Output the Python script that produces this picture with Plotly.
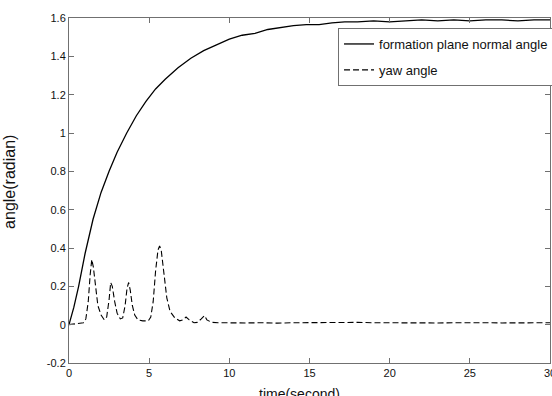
import plotly.graph_objects as go

# formation plane normal angle (solid)
t_normal = [0, 0.3, 0.6, 1.0, 1.5, 2.0, 2.5, 3.0, 3.6, 4.2, 4.8, 5.4, 6.0, 6.8, 7.6, 8.4,
            9.2, 10.0, 10.8, 11.6, 12.4, 13.2, 14.0, 14.8, 15.6, 16.4, 17.2, 18.0, 19.0,
            20.0, 21.0, 22.0, 23.0, 24.0, 25.0, 26.0, 27.0, 28.0, 29.0, 30.0]
v_normal = [0, 0.09, 0.2, 0.37, 0.55, 0.69, 0.80, 0.90, 1.00, 1.09, 1.165, 1.23, 1.28,
            1.34, 1.39, 1.43, 1.46, 1.49, 1.51, 1.52, 1.54, 1.55, 1.56, 1.565, 1.565,
            1.575, 1.58, 1.58, 1.585, 1.58, 1.585, 1.59, 1.585, 1.59, 1.585, 1.59, 1.59,
            1.585, 1.59, 1.59]

# yaw angle (dashed)
t_yaw = [0, 0.5, 0.9, 1.05, 1.2, 1.32, 1.42, 1.52, 1.65, 1.8, 2.0, 2.2, 2.35, 2.5, 2.6,
         2.7, 2.85, 3.0, 3.2, 3.35, 3.5, 3.62, 3.72, 3.82, 3.95, 4.1, 4.3, 4.6, 4.95, 5.1,
         5.25, 5.4, 5.55, 5.65, 5.75, 5.9, 6.1, 6.3, 6.6, 6.9, 7.1, 7.3, 7.5, 7.8, 8.0,
         8.25, 8.45, 8.6, 8.9, 9.3, 10, 11, 12, 13, 14, 15, 16, 17, 18, 19, 20, 21, 22,
         23, 24, 25, 26, 27, 28, 29, 30]
v_yaw = [0.0, 0.005, 0.01, 0.03, 0.12, 0.26, 0.34, 0.30, 0.19, 0.10, 0.05, 0.025, 0.04,
         0.13, 0.22, 0.20, 0.12, 0.06, 0.03, 0.035, 0.10, 0.19, 0.22, 0.18, 0.10, 0.05,
         0.025, 0.02, 0.02, 0.04, 0.12, 0.28, 0.39, 0.41, 0.39, 0.28, 0.14, 0.07, 0.035,
         0.02, 0.025, 0.04, 0.025, 0.01, 0.012, 0.03, 0.048, 0.025, 0.012, 0.01, 0.008,
         0.009, 0.01, 0.008, 0.01, 0.011, 0.009, 0.01, 0.012, 0.01, 0.009, 0.011, 0.01,
         0.009, 0.01, 0.011, 0.01, 0.009, 0.01, 0.01, 0.01]

x_ticks = [0, 5, 10, 15, 20, 25, 30]
y_ticks = [-0.2, 0, 0.2, 0.4, 0.6, 0.8, 1, 1.2, 1.4, 1.6]
y_tick_labels = ["-0.2", "0", "0.2", "0.4", "0.6", "0.8", "1", "1.2", "1.4", "1.6"]

FONT = "Liberation Sans, Arial, sans-serif"

fig = go.Figure()
fig.add_trace(go.Scatter(x=t_normal, y=v_normal, mode="lines",
                         name="formation plane normal angle", legendgroup="a",
                         line=dict(color="black", width=1.3)))
fig.add_trace(go.Scatter(x=t_yaw, y=v_yaw, mode="lines", name="yaw angle",
                         legendgroup="b",
                         line=dict(color="black", width=1.1, dash="6px,3px")))

axis_common = dict(showline=True, linecolor="#707070", linewidth=1, mirror="allticks",
                   ticks="inside", ticklen=5, tickcolor="#707070", showgrid=False,
                   zeroline=False, ticklabeloverflow="allow",
                   tickfont=dict(family=FONT, size=11, color="#111"))

fig.update_xaxes(range=[0, 30], tickvals=x_ticks, ticktext=[str(v) for v in x_ticks],
                 **axis_common)
fig.update_yaxes(range=[-0.2, 1.6], tickvals=y_ticks, ticktext=y_tick_labels,
                 **axis_common)

fig.update_layout(
    width=552, height=396,
    margin=dict(l=69, r=2, t=18, b=33, autoexpand=False),
    plot_bgcolor="white", paper_bgcolor="white",
    showlegend=True,
    legend=dict(x=0.5593, y=0.971, xanchor="left", yanchor="top",
                bgcolor="white", bordercolor="#707070", borderwidth=1,
                font=dict(family=FONT, size=13, color="#111"),
                traceorder="grouped", tracegroupgap=6),
    annotations=[
        dict(text="time(second)", xref="paper", yref="paper", x=0.48, y=0,
             xanchor="center", yanchor="top", yshift=-21, showarrow=False,
             font=dict(family=FONT, size=14, color="#111")),
        dict(text="angle(radian)", xref="paper", yref="paper", x=0, y=0.525,
             xanchor="center", yanchor="middle", xshift=-59, textangle=-90,
             showarrow=False,
             font=dict(family=FONT, size=16, color="#111")),
    ],
)

fig.write_html("out.html")
